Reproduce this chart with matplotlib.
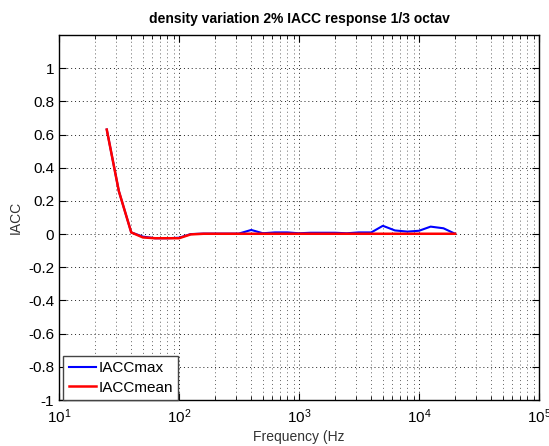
import numpy as np
import matplotlib.pyplot as plt
from matplotlib.ticker import LogLocator, NullFormatter

plt.rcParams["font.family"] = ["Liberation Sans", "DejaVu Sans"]

# 1/3 octave band centres (Hz)
freq = [25, 31.5, 40, 50, 63, 80, 100, 125, 160, 200, 250, 315, 400, 500,
        630, 800, 1000, 1250, 1600, 2000, 2500, 3150, 4000, 5000, 6300,
        8000, 10000, 12500, 16000, 20000]

iacc_max = [0.63, 0.26, 0.01, -0.015, -0.025, -0.025, -0.022, 0.0, 0.003,
            0.003, 0.003, 0.003, 0.025, 0.005, 0.01, 0.01, 0.005, 0.008,
            0.008, 0.008, 0.005, 0.01, 0.01, 0.05, 0.022, 0.015, 0.02,
            0.045, 0.035, 0.002]

iacc_mean = [0.63, 0.26, 0.01, -0.02, -0.025, -0.025, -0.025, -0.002, 0.002,
             0.002, 0.002, 0.002, 0.002, 0.002, 0.002, 0.002, 0.002, 0.002,
             0.002, 0.002, 0.002, 0.002, 0.002, 0.002, 0.002, 0.002, 0.002,
             0.002, 0.002, 0.002]

fig = plt.figure(figsize=(5.49, 4.46), dpi=100)
ax = fig.add_axes([59 / 549, 1 - 400 / 446, 480 / 549, 365 / 446])

ax.plot(freq, iacc_max, color="#0000ff", linewidth=1.5, label="IACCmax")
ax.plot(freq, iacc_mean, color="#ff0000", linewidth=1.8, label="IACCmean")

ax.set_xscale("log")
ax.set_xlim(10, 1e5)
ax.set_ylim(-1, 1.2)
ax.set_yticks(np.arange(-1, 1.01, 0.2))
ax.set_yticklabels(["-1", "-0.8", "-0.6", "-0.4", "-0.2", "0",
                    "0.2", "0.4", "0.6", "0.8", "1"])
ax.xaxis.set_minor_locator(LogLocator(base=10, subs=np.arange(2, 10)))
ax.xaxis.set_minor_formatter(NullFormatter())

ax.grid(True, which="major", linestyle=(0, (1, 3)), color="#222222",
        linewidth=0.7)
ax.grid(True, which="minor", axis="x", linestyle=(0, (1, 3)),
        color="#222222", linewidth=0.7, alpha=0.7)

ax.tick_params(which="both", direction="in", top=True, right=True,
               labelsize=11)
ax.tick_params(which="major", length=5)
ax.tick_params(which="minor", length=3)
ax.tick_params(axis="x", pad=5)

for spine in ax.spines.values():
    spine.set_linewidth(1.0)

ax.set_title("density variation 2% IACC response 1/3 octav",
             fontsize=10, fontweight="bold", pad=9)
ax.set_xlabel("Frequency (Hz", fontsize=10, color="#333333", labelpad=3)
ax.set_ylabel("IACC", fontsize=10, color="#333333")

leg = ax.legend(loc="lower left", bbox_to_anchor=(0.009, 0.0), fontsize=11,
                fancybox=False, framealpha=1, edgecolor="#444444",
                borderaxespad=0.0, handlelength=1.8, handletextpad=0.15,
                borderpad=0.35, labelspacing=0.35)
leg.get_frame().set_linewidth(1.0)

fig.savefig("out.png", dpi=100)
